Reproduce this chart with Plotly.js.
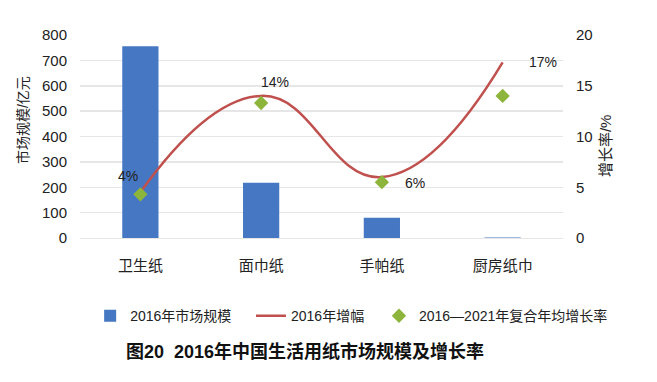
<!DOCTYPE html>
<html>
<head>
<meta charset="utf-8">
<script src="https://cdn.plot.ly/plotly-3.0.1.min.js"></script>
<style>html,body{margin:0;padding:0;background:#fff;}</style>
</head>
<body>
<div id="chart" style="width:657px;height:382px;"></div>
<script>
const categories = ["卫生纸", "面巾纸", "手帕纸", "厨房纸巾"];
const marketSize = [756, 218, 80, 2];
const growth2016 = [4.5, 14, 6, 17.3];
const growthLabels = ["4%", "14%", "6%", "17%"];
const cagr = [4.3, 13.3, 5.5, 14.0];
const seriesNames = ["2016年市场规模", "2016年增幅", "2016—2021年复合年均增长率"];

const FONT = "Liberation Sans, Arial, 'Noto Sans CJK SC', sans-serif";

const labelShift = [[-12, 16], [14, 14], [33, -6], [40, 0]];

const traces = [
  {
    type: "bar", name: seriesNames[0], x: categories, y: marketSize,
    marker: {color: "#4677c2"}, yaxis: "y", hoverinfo: "skip", legend: "legend"
  },
  {
    type: "scatter", mode: "lines", name: seriesNames[1], x: categories, y: growth2016,
    yaxis: "y2", line: {color: "#c0504d", width: 2.5, shape: "spline", smoothing: 1.3},
    legend: "legend2"
  },
  {
    type: "scatter", mode: "markers", name: seriesNames[2], x: categories, y: cagr,
    yaxis: "y2", marker: {symbol: "diamond", size: 11, color: "#8db53c"}, legend: "legend3"
  }
];

const annotations = categories.map((c, i) => ({
  x: c, y: growth2016[i], xref: "x", yref: "y2", text: growthLabels[i], showarrow: false,
  xshift: labelShift[i][0], yshift: labelShift[i][1],
  font: {size: 14, color: "#222", family: FONT}
}));
annotations.push({
  text: "<b>图20  2016年中国生活用纸市场规模及增长率</b>", xref: "paper", yref: "paper",
  x: 0.466, y: -0.56, xanchor: "center", yanchor: "middle", showarrow: false,
  font: {size: 18, color: "#111", family: FONT}
});
annotations.push({
  text: "市场规模/亿元", xref: "paper", yref: "paper", x: -0.118, y: 0.581,
  xanchor: "center", yanchor: "middle", textangle: -90, showarrow: false,
  font: {size: 14, color: "#222", family: FONT}
});
annotations.push({
  text: "增长率/%", xref: "paper", yref: "paper", x: 1.087, y: 0.453,
  xanchor: "center", yanchor: "middle", textangle: -90, showarrow: false,
  font: {size: 15, color: "#222", family: FONT}
});

function legendAt(x) {
  return {
    orientation: "h", x: x, xanchor: "left", y: -0.385, yanchor: "middle",
    font: {size: 14}, itemwidth: 30, bgcolor: "rgba(0,0,0,0)"
  };
}

const layout = {
  width: 657, height: 382,
  margin: {l: 80, r: 94, t: 35, b: 144},
  paper_bgcolor: "#fff", plot_bgcolor: "#fff",
  font: {family: FONT, size: 14, color: "#222"},
  bargap: 0.7,
  showlegend: true,
  xaxis: {
    type: "category", range: [-0.5, 3.5], showgrid: false, zeroline: false,
    showline: false, ticks: "", ticklabelstandoff: 17, tickfont: {size: 15}
  },
  yaxis: {
    range: [0, 800], dtick: 100, showgrid: true, gridcolor: "#e6e6e6", gridwidth: 1.5,
    zeroline: true, zerolinecolor: "#e6e6e6", showline: false, ticks: "",
    ticklabelstandoff: 12, tickfont: {size: 15}
  },
  yaxis2: {
    range: [0, 20], dtick: 5, overlaying: "y", side: "right", showgrid: false,
    zeroline: false, showline: false, ticks: "", ticklabelstandoff: 12, tickfont: {size: 15}
  },
  legend: legendAt(0.021),
  legend2: legendAt(0.354),
  legend3: legendAt(0.619),
  annotations: annotations
};

Plotly.newPlot("chart", traces, layout, {displayModeBar: false, staticPlot: true});
</script>
</body>
</html>
